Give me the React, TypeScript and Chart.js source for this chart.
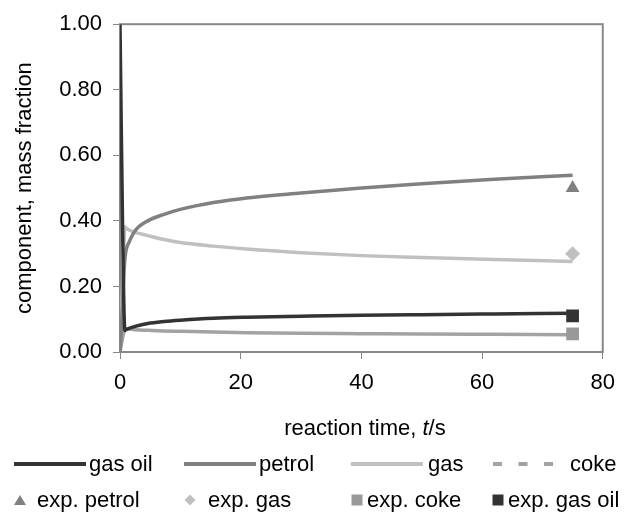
import React, { useEffect, useRef } from 'react';
import { Chart, registerables } from 'chart.js';

Chart.register(...registerables);

// ---- data ----
const SERIES_NAMES = ['gas oil', 'petrol', 'gas', 'coke'];
const EXP_NAMES = ['exp. petrol', 'exp. gas', 'exp. coke', 'exp. gas oil'];

const TIME = [0, 0.2, 0.4, 0.6, 0.8, 1, 1.5, 2.5, 4.6, 7.3, 10, 15.5, 21, 30, 40, 50, 62, 75];
const GAS_OIL = [1.0, 0.7, 0.42, 0.18, 0.065, 0.068, 0.072, 0.078, 0.087, 0.093, 0.097, 0.103, 0.106, 0.109, 0.112, 0.114, 0.116, 0.118];
const PETROL = [0, 0.06, 0.14, 0.22, 0.28, 0.31, 0.335, 0.37, 0.4, 0.42, 0.435, 0.456, 0.47, 0.485, 0.5, 0.513, 0.527, 0.539];
const GAS = [0, 0.1, 0.2, 0.3, 0.382, 0.378, 0.372, 0.365, 0.355, 0.343, 0.334, 0.323, 0.314, 0.303, 0.294, 0.288, 0.282, 0.276];
const COKE = [0, 0.02, 0.04, 0.058, 0.072, 0.071, 0.07, 0.068, 0.066, 0.064, 0.063, 0.061, 0.059, 0.057, 0.056, 0.055, 0.054, 0.053];

const EXP_TIME = [75];
const EXP_PETROL = [0.5];
const EXP_GAS = [0.3];
const EXP_COKE = [0.055];
const EXP_GAS_OIL = [0.11];

const X_TICKS = [0, 20, 40, 60, 80];
const Y_TICKS = [0, 0.2, 0.4, 0.6, 0.8, 1.0];

const X_TITLE = 'reaction time, ';
const Y_TITLE = 'component, mass fraction';

// ---- styles ----
const FONT = '"Liberation Sans", Arial, Helvetica, sans-serif';
const C_GASOIL = '#333333';
const C_PETROL = '#808080';
const C_GAS = '#c0c0c0';
const C_COKE = '#a3a3a3';
const C_COKE_PT = '#999999';
const C_FRAME = '#888888';
const LINE_W = 3.5;

const pts = (xs: number[], ys: number[]) => xs.map((x, i) => ({ x, y: ys[i] }));

const framePlugin = {
  id: 'frame',
  beforeDatasetsDraw(chart: any) {
    const { ctx, chartArea } = chart;
    const { left, top, right, bottom } = chartArea;
    ctx.save();
    ctx.strokeStyle = C_FRAME;
    ctx.lineWidth = 2;
    ctx.strokeRect(left, top, right - left, bottom - top);
    ctx.restore();
  },
};

function LineSample({ color, dash, width }: { color: string; dash?: string; width: number }) {
  return (
    <svg width={width} height={6} style={{ display: 'block' }}>
      <line x1={0} y1={3} x2={width} y2={3} stroke={color} strokeWidth={4} strokeDasharray={dash} />
    </svg>
  );
}

function Marker({ kind, color }: { kind: string; color: string }) {
  let shape: any = null;
  if (kind === 'triangle') shape = <polygon points="6,1 12,11 0,11" fill={color} />;
  else if (kind === 'diamond') shape = <polygon points="6,0.5 11.5,6 6,11.5 0.5,6" fill={color} />;
  else shape = <rect x={0.5} y={0.5} width={11} height={11} fill={color} />;
  return (
    <svg width={12} height={12} style={{ display: 'block' }}>
      {shape}
    </svg>
  );
}

const textStyle: React.CSSProperties = {
  position: 'absolute',
  fontFamily: FONT,
  fontSize: 22,
  lineHeight: '26px',
  color: '#000',
  whiteSpace: 'nowrap',
};

export default function App() {
  const ref = useRef<HTMLCanvasElement | null>(null);

  useEffect(() => {
    document.body.style.margin = '0';
    if (!ref.current) return;
    Chart.defaults.font.family = FONT;
    const lineDs = (label: string, ys: number[], color: string) => ({
      label,
      data: pts(TIME, ys),
      showLine: true,
      borderColor: color,
      backgroundColor: color,
      borderWidth: LINE_W,
      pointRadius: 0,
      cubicInterpolationMode: 'monotone' as const,
      fill: false,
    });
    const ptDs = (label: string, ys: number[], color: string, style: string, r: number) => ({
      label,
      data: pts(EXP_TIME, ys),
      showLine: false,
      pointStyle: style,
      pointRadius: r,
      pointHoverRadius: r,
      pointBackgroundColor: color,
      pointBorderColor: color,
      pointBorderWidth: 0,
      backgroundColor: color,
      borderColor: color,
    });
    const chart = new Chart(ref.current, {
      type: 'scatter',
      data: {
        datasets: [
          ptDs(EXP_NAMES[0], EXP_PETROL, C_PETROL, 'triangle', 8),
          ptDs(EXP_NAMES[1], EXP_GAS, C_GAS, 'rectRot', 7.5),
          ptDs(EXP_NAMES[2], EXP_COKE, C_COKE_PT, 'rect', 9),
          ptDs(EXP_NAMES[3], EXP_GAS_OIL, C_GASOIL, 'rect', 9),
          lineDs(SERIES_NAMES[0], GAS_OIL, C_GASOIL),
          lineDs(SERIES_NAMES[1], PETROL, C_PETROL),
          lineDs(SERIES_NAMES[2], GAS, C_GAS),
          lineDs(SERIES_NAMES[3], COKE, C_COKE),
        ] as any,
      },
      options: {
        animation: false,
        responsive: false,
        maintainAspectRatio: false,
        layout: { padding: { top: 23, right: 16, bottom: 0, left: 12 } },
        plugins: {
          legend: { display: false },
          tooltip: { enabled: false },
        },
        scales: {
          x: {
            type: 'linear',
            min: 0,
            max: 80,
            afterBuildTicks: (s: any) => {
              s.ticks = X_TICKS.map((v) => ({ value: v }));
            },
            afterFit: (s: any) => {
              s.height = 161;
            },
            ticks: {
              font: { family: FONT, size: 22 },
              color: '#000',
              padding: 11,
              maxRotation: 0,
              autoSkip: false,
            },
            grid: {
              display: true,
              drawOnChartArea: false,
              drawTicks: true,
              tickLength: 7,
              color: C_FRAME,
              lineWidth: 1,
            },
            border: { display: false },
          },
          y: {
            type: 'linear',
            min: 0,
            max: 1,
            afterBuildTicks: (s: any) => {
              s.ticks = Y_TICKS.map((v) => ({ value: v }));
            },
            afterFit: (s: any) => {
              s.width = 108;
            },
            ticks: {
              font: { family: FONT, size: 22 },
              color: '#000',
              padding: 11,
              callback: (v: any) => Number(v).toFixed(2),
            },
            grid: {
              display: true,
              drawOnChartArea: false,
              drawTicks: true,
              tickLength: 7,
              color: C_FRAME,
              lineWidth: 1,
            },
            border: { display: false },
            title: {
              display: true,
              text: Y_TITLE,
              font: { family: FONT, size: 22 },
              color: '#000',
              padding: { top: 0, bottom: 0 },
            },
          },
        },
      } as any,
      plugins: [framePlugin],
    });
    return () => chart.destroy();
  }, []);

  const row1 = 464;
  const row2 = 500;

  return (
    <div style={{ position: 'relative', width: 626, height: 513, overflow: 'hidden', background: '#fff' }}>
      <canvas ref={ref} width={626} height={513} style={{ position: 'absolute', left: 0, top: 0, width: 626, height: 513 }} />
      {/* x axis title */}
      <div style={{ ...textStyle, left: 120, width: 490, top: 428 - 13, textAlign: 'center' }}>
        {X_TITLE}
        <i>t</i>/s
      </div>
      {/* legend row 1 */}
      <div style={{ position: 'absolute', left: 14, top: row1 - 3 }}>
        <LineSample color={C_GASOIL} width={72} />
      </div>
      <div style={{ ...textStyle, left: 89, top: row1 - 13 }}>{SERIES_NAMES[0]}</div>
      <div style={{ position: 'absolute', left: 184, top: row1 - 3 }}>
        <LineSample color={C_PETROL} width={72} />
      </div>
      <div style={{ ...textStyle, left: 259, top: row1 - 13 }}>{SERIES_NAMES[1]}</div>
      <div style={{ position: 'absolute', left: 351, top: row1 - 3 }}>
        <LineSample color={C_GAS} width={72} />
      </div>
      <div style={{ ...textStyle, left: 428, top: row1 - 13 }}>{SERIES_NAMES[2]}</div>
      <div style={{ position: 'absolute', left: 493, top: row1 - 3 }}>
        <LineSample color={C_COKE} width={60} dash="9 16.5" />
      </div>
      <div style={{ ...textStyle, left: 570, top: row1 - 13 }}>{SERIES_NAMES[3]}</div>
      {/* legend row 2 */}
      <div style={{ position: 'absolute', left: 14, top: row2 - 6 }}>
        <Marker kind="triangle" color={C_PETROL} />
      </div>
      <div style={{ ...textStyle, left: 37, top: row2 - 13 }}>{EXP_NAMES[0]}</div>
      <div style={{ position: 'absolute', left: 184, top: row2 - 6 }}>
        <Marker kind="diamond" color={C_GAS} />
      </div>
      <div style={{ ...textStyle, left: 208, top: row2 - 13 }}>{EXP_NAMES[1]}</div>
      <div style={{ position: 'absolute', left: 351, top: row2 - 6 }}>
        <Marker kind="square" color={C_COKE_PT} />
      </div>
      <div style={{ ...textStyle, left: 367, top: row2 - 13 }}>{EXP_NAMES[2]}</div>
      <div style={{ position: 'absolute', left: 492, top: row2 - 6 }}>
        <Marker kind="square" color={C_GASOIL} />
      </div>
      <div style={{ ...textStyle, left: 508, top: row2 - 13 }}>{EXP_NAMES[3]}</div>
    </div>
  );
}
